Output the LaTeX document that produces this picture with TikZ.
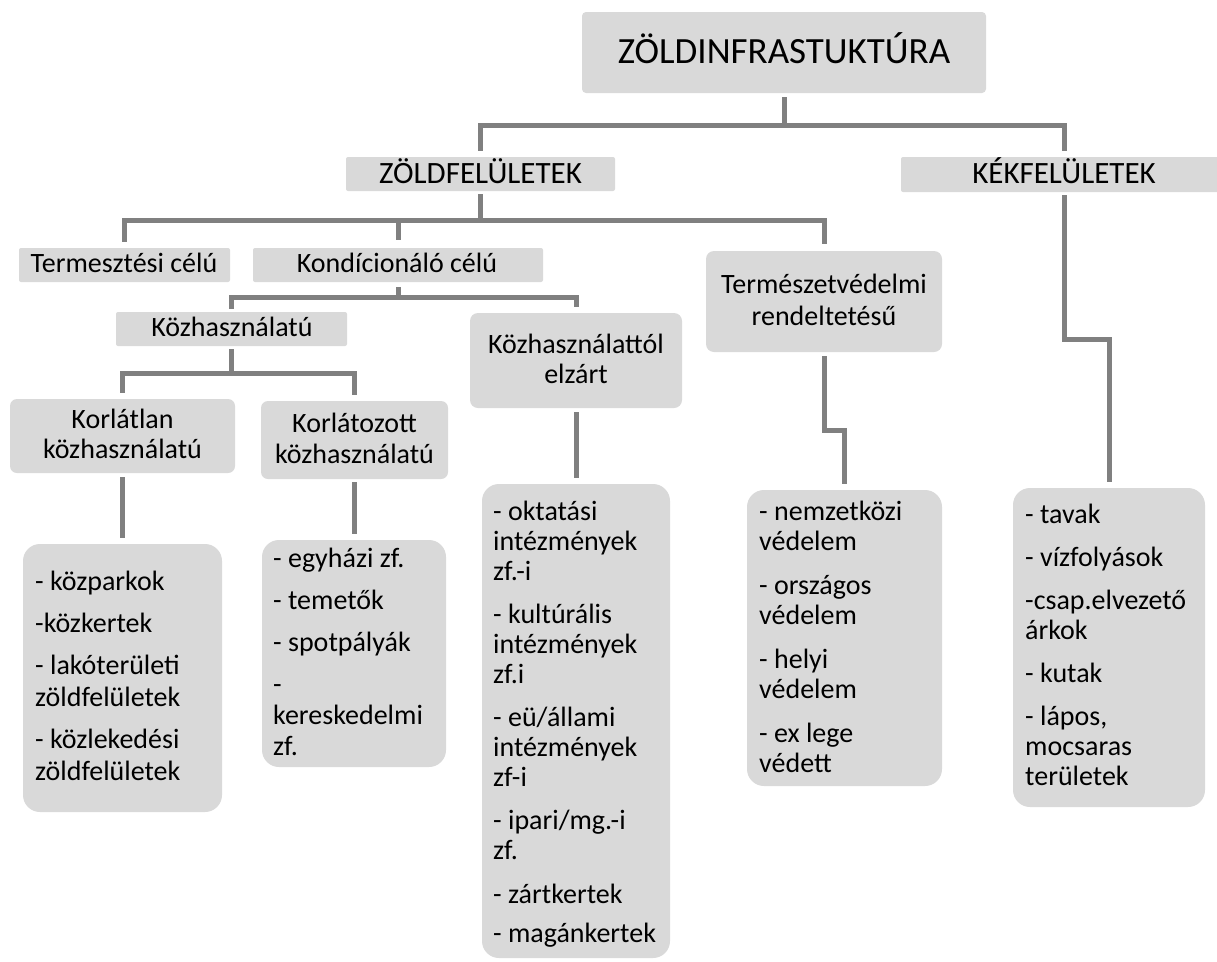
\documentclass[tikz,border=0pt]{standalone}
\usepackage{fontspec}
\setmainfont{Carlito}
\definecolor{boxfill}{HTML}{D9D9D9}
\definecolor{linegray}{HTML}{808080}
\newcommand\twoline[3][31pt]{\vtop{\baselineskip=#1\relax\halign{\hfil##\hfil\cr#2\cr#3\cr}}}
\newcommand\blist[3]{\vtop{\hsize=240pt\parindent=0pt\raggedright\baselineskip=#1\relax\parskip=#2\relax #3}}
\tikzset{
  box/.style={fill=boxfill, draw=none, inner sep=0pt, rounded corners=#1},
  box/.default=3pt,
  conn/.style={draw=linegray, line width=5pt},
  lbl/.style={font=\fontsize{28}{30}\selectfont, inner sep=0pt, anchor=base},
  bl/.style={font=\fontsize{28}{30}\selectfont, inner sep=0pt, anchor=base west},
}
\begin{document}
\begin{tikzpicture}[x=1pt,y=-1pt]
\fill[white] (0,0) rectangle (1217,961);
\useasboundingbox (0,0) rectangle (1217,961);

% boxes
\node[box=4pt, minimum width=404pt, minimum height=81pt] (root) at (784,52.5) {};
\node[box=2pt, minimum width=269pt, minimum height=34pt] (zold) at (480.5,174) {};
\node[box=2pt, minimum width=326pt, minimum height=35pt] (kek) at (1064,174.5) {};
\node[box=2pt, minimum width=211pt, minimum height=34pt] (term) at (124.5,265) {};
\node[box=2pt, minimum width=290pt, minimum height=34pt] (kond) at (398,265) {};
\node[box=2pt, minimum width=231pt, minimum height=34pt] (kozh) at (231.5,329) {};
\node[box=8pt, minimum width=212pt, minimum height=95pt] (elz) at (576,360.5) {};
\node[box=8pt, minimum width=236pt, minimum height=101pt] (termv) at (824,301.5) {};
\node[box=7pt, minimum width=225pt, minimum height=74pt] (korl) at (122.5,436) {};
\node[box=7pt, minimum width=187pt, minimum height=78pt] (korz) at (354.5,440) {};
\node[box=17pt, minimum width=199pt, minimum height=268pt] (b1) at (122.5,678) {};
\node[box=17pt, minimum width=184pt, minimum height=227pt] (b2) at (354,653.5) {};
\node[box=17pt, minimum width=188pt, minimum height=474pt] (b3) at (576,721) {};
\node[box=17pt, minimum width=195pt, minimum height=296pt] (b4) at (844.5,638) {};
\node[box=17pt, minimum width=192pt, minimum height=319pt] (b5) at (1109,647.5) {};

% labels
\node[lbl, font=\fontsize{37}{40}\selectfont] (rootT) at (784,63) {ZÖLDINFRASTUKTÚRA};
\node[lbl, font=\fontsize{31}{34}\selectfont] (zoldT) at (480.5,183) {ZÖLDFELÜLETEK};
\node[lbl, font=\fontsize{31}{34}\selectfont] (kekT) at (1064,183) {KÉKFELÜLETEK};
\node[lbl] (termT) at (124,272.5) {Termesztési célú};
\node[lbl] (kondT) at (397,272.5) {Kondícionáló célú};
\node[lbl] (kozhT) at (232,336) {Közhasználatú};
\node[lbl] (elzT) at (576,353) {\twoline[30pt]{Közhasználattól}{elzárt}};
\node[lbl] (termvT) at (824,293) {\twoline[32pt]{Természetvédelmi}{rendeltetésű}};
\node[lbl] (korlT) at (122.5,428) {\twoline[30pt]{Korlátlan}{közhasználatú}};
\node[lbl] (korzT) at (354.5,432) {\twoline[31pt]{Korlátozott}{közhasználatú}};

% bullet lists
\node[bl] (b1T) at (35,590) {\blist{32pt}{10pt}{%
- közparkok\par
-közkertek\par
- lakóterületi\newline zöldfelületek\par
- közlekedési\newline zöldfelületek}};
\node[bl] (b2T) at (273,567) {\blist{31pt}{11pt}{%
- egyházi zf.\par
- temetők\par
- spotpályák\par
-\newline kereskedelmi\newline zf.}};
\node[bl] (b3T) at (493,520) {\blist{30pt}{13.3pt}{%
- oktatási\newline intézmények\newline zf.-i\par
- kultúrális\newline intézmények\newline zf.i\par
- eü/állami\newline intézmények\newline zf-i\par
- ipari/mg.-i\newline zf.\par
- zártkertek\par
\vskip-4pt
- magánkertek}};
\node[bl] (b4T) at (759,520) {\blist{30.5pt}{13pt}{%
- nemzetközi\newline védelem\par
- országos\newline védelem\par
- helyi\newline védelem\par
- ex lege\newline védett}};
\node[bl] (b5T) at (1025,523) {\blist{30pt}{13pt}{%
- tavak\par
- vízfolyások\par
-csap.elvezető\newline árkok\par
- kutak\par
- lápos,\newline mocsaras\newline területek}};

% connectors
\coordinate (h1) at (784,125);
\draw[conn] ([yshift=-4pt]root.south) -- (h1);
\draw[conn] ([yshift=6pt]zold.north) |- (h1) -| ([yshift=6pt]kek.north);

\coordinate (h2) at (480.5,220);
\draw[conn] ([yshift=-3pt]zold.south) -- (h2);
\draw[conn] ([yshift=6pt]term.north) |- (h2) -| ([yshift=7pt]termv.north);
\draw[conn] (kond.north |- h2) -- ([yshift=8pt]kond.north);

\coordinate (h3) at (398,297);
\draw[conn] ([yshift=-5pt]kond.south) -- (h3);
\draw[conn] ([yshift=3pt]kozh.north) |- (h3) -| ([yshift=6pt]elz.north);

\coordinate (h4) at (231.5,373);
\draw[conn] ([yshift=-3pt]kozh.south) -- (h4);
\draw[conn] ([yshift=6pt]korl.north) |- (h4) -| ([yshift=6pt]korz.north);

\draw[conn] ([yshift=-4pt]korl.south) -- ([yshift=6pt]b1.north);
\draw[conn] ([yshift=-3pt]korz.south) -- ([yshift=6pt]b2.north -| korz.south);
\draw[conn] ([yshift=-4pt]elz.south) -- ([yshift=6pt]b3.north);

\coordinate (j5) at (824,430);
\draw[conn] ([yshift=-4pt]termv.south) -- (termv.south |- j5) -| ([yshift=6pt]b4.north);
\coordinate (j6) at (1064,339);
\draw[conn] ([yshift=-3pt]kek.south) -- (kek.south |- j6) -| ([yshift=6pt]b5.north);
\end{tikzpicture}
\end{document}
